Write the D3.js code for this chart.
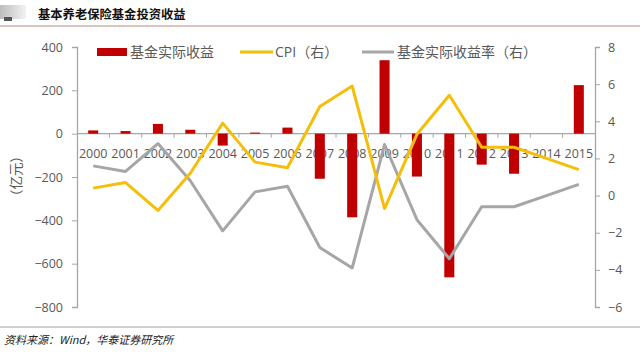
<!DOCTYPE html>
<html><head><meta charset="utf-8">
<script src="https://cdn.jsdelivr.net/npm/d3@7"></script>
<style>body{margin:0;background:#fff}svg{display:block}</style>
</head><body>
<script>
const years = ["2000","2001","2002","2003","2004","2005","2006","2007","2008","2009","2010","2011","2012","2013","2014","2015"];
const realIncome = [15, 12, 45, 18, -55, 5, 28, -208, -386, 339, -198, -663, -143, -185, 0, 224];
const cpi = [0.4, 0.7, -0.8, 1.2, 3.9, 1.8, 1.5, 4.8, 5.9, -0.7, 3.3, 5.4, 2.6, 2.6, 2.0, 1.4];
const realRate = [1.6, 1.3, 2.8, 0.8, -1.9, 0.2, 0.5, -2.8, -3.9, 2.75, -1.3, -3.4, -0.6, -0.6, 0.0, 0.6];
const leftTicks = [400, 200, 0, -200, -400, -600, -800];
const rightTicks = [8, 6, 4, 2, 0, -2, -4, -6];
const legendItems = ["基金实际收益", "CPI（右）", "基金实际收益率（右）"];
const titleText = "基本养老保险基金投资收益";
const sourceText = "资料来源：Wind，华泰证券研究所";
const yTitle = "（亿元）";

const W = 640, H = 355;
const svg = d3.select("body").append("svg").attr("width", W).attr("height", H);
const font = "'Open Sans','Noto Sans CJK SC',sans-serif";
const txtCol = "#595959", axisCol = "#A6A6A6";
const red = "#C00000", gold = "#F5BE0B", gray = "#A6A6A6";

// header
const grad = svg.append("defs").append("linearGradient").attr("id","g1");
grad.append("stop").attr("offset","0").attr("stop-color","#bdbdbd");
grad.append("stop").attr("offset","1").attr("stop-color","#f2f2f2");
svg.append("rect").attr("x",0).attr("y",5).attr("width",26).attr("height",14).attr("fill","url(#g1)");
svg.append("rect").attr("x",4).attr("y",17).attr("width",8).attr("height",4).attr("fill","#555");
svg.append("text").attr("x",38).attr("y",19).attr("font-family","'Noto Sans CJK SC'").attr("font-weight",700)
  .attr("font-size",12.3).attr("fill","#111").text(titleText);
svg.append("line").attr("x1",0).attr("x2",W).attr("y1",26).attr("y2",26).attr("stroke","#CDB3A8").attr("stroke-width",1.5);
svg.append("line").attr("x1",0).attr("x2",W).attr("y1",327).attr("y2",327).attr("stroke","#A0A0A0").attr("stroke-width",1);
svg.append("text").attr("x",4).attr("y",344).attr("font-family","'Noto Sans CJK SC'").attr("font-style","italic")
  .attr("font-size",11).attr("fill","#222").text(sourceText);

// scales
const x = d3.scaleBand().domain(years).range([77, 595]).paddingInner(0.69).paddingOuter(0.345);
const step = x.step();
const cx = d => x(d) + x.bandwidth()/2;
const yL = d3.scaleLinear().domain([-800, 400]).range([307, 47]);
const yR = d3.scaleLinear().domain([-6, 8]).range([307, 47]);

// axes
const gL = svg.append("g").attr("transform","translate(77,0)")
  .call(d3.axisLeft(yL).tickValues(leftTicks).tickSize(5).tickPadding(9));
const gR = svg.append("g").attr("transform","translate(595,0)")
  .call(d3.axisRight(yR).tickValues(rightTicks).tickSize(5).tickPadding(8));
[gL, gR].forEach(g => {
  g.select(".domain").attr("stroke", axisCol).attr("stroke-width",1.3);
  g.selectAll(".tick line").attr("stroke", axisCol);
  g.selectAll(".tick text").attr("fill", txtCol).attr("font-family", font).attr("font-size", 12.5);
});

// y title
svg.append("text").attr("transform","translate(21,176) rotate(-90)").attr("text-anchor","middle")
  .attr("font-family","'Noto Sans CJK SC'").attr("font-size",13.5).attr("fill",txtCol).text(yTitle);

// x axis labels
svg.append("g").selectAll("text").data(years).join("text")
  .attr("x", d => cx(d)).attr("y", 158).attr("text-anchor","middle")
  .attr("font-family", font).attr("font-size", 12.5).attr("fill", txtCol).text(d => d);

// zero line with ticks at boundaries
svg.append("line").attr("x1",77).attr("x2",595).attr("y1",yL(0)).attr("y2",yL(0)).attr("stroke",axisCol).attr("stroke-width",1.3);
svg.append("g").selectAll("line").data(d3.range(1, years.length)).join("line")
  .attr("x1", i => 77 + i*step).attr("x2", i => 77 + i*step)
  .attr("y1", yL(0)).attr("y2", yL(0)+4).attr("stroke", axisCol);

// bars
svg.append("g").selectAll("rect").data(years.map((y,i)=>({y, v: realIncome[i]})).filter(d=>d.v!==0)).join("rect")
  .attr("x", d => x(d.y)).attr("width", x.bandwidth())
  .attr("y", d => yL(Math.max(0, d.v))).attr("height", d => Math.abs(yL(d.v) - yL(0)))
  .attr("fill", red);

// lines
const line = d3.line().x((d,i) => cx(years[i])).y(d => yR(d));
svg.append("path").datum(realRate).attr("d", line).attr("fill","none").attr("stroke",gray).attr("stroke-width",3).attr("stroke-linejoin","round");
svg.append("path").datum(cpi).attr("d", line).attr("fill","none").attr("stroke",gold).attr("stroke-width",3).attr("stroke-linejoin","round");

// legend
const lg = svg.append("g").attr("font-family", font).attr("font-size", 14).attr("fill", txtCol);
lg.append("rect").attr("x",97).attr("y",48).attr("width",30).attr("height",8).attr("fill",red);
lg.append("text").attr("x",130).attr("y",57).text(legendItems[0]);
lg.append("line").attr("x1",240).attr("x2",273).attr("y1",52).attr("y2",52).attr("stroke",gold).attr("stroke-width",3);
lg.append("text").attr("x",275).attr("y",57).text(legendItems[1]);
lg.append("line").attr("x1",362).attr("x2",394).attr("y1",52).attr("y2",52).attr("stroke",gray).attr("stroke-width",3);
lg.append("text").attr("x",397).attr("y",57).text(legendItems[2]);
</script>
</body></html>
